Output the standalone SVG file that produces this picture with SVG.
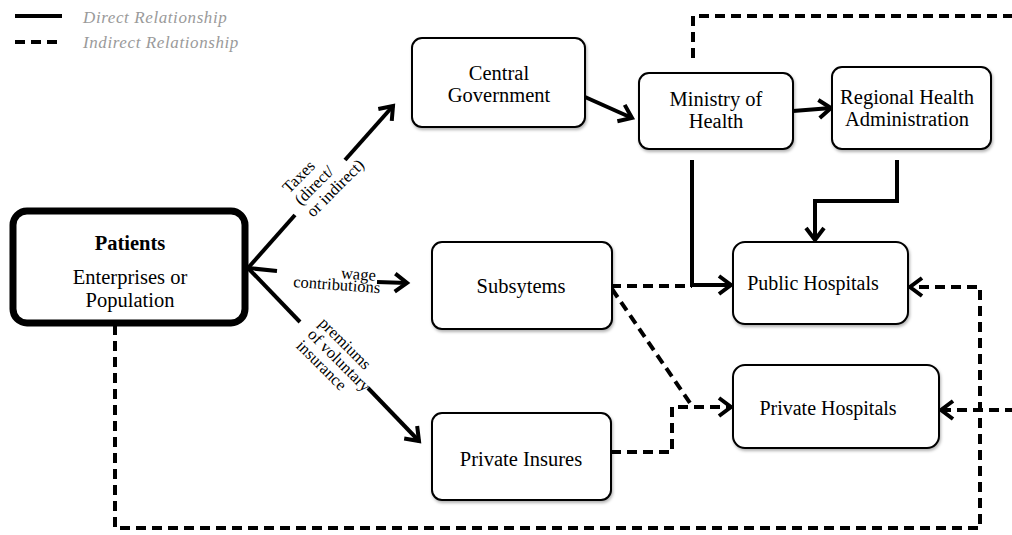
<svg xmlns="http://www.w3.org/2000/svg" width="1012" height="535" viewBox="0 0 1012 535">
<defs>
<marker id="ah" markerUnits="userSpaceOnUse" markerWidth="20" markerHeight="20" refX="14" refY="9" orient="auto" overflow="visible">
<path d="M2,0 L14,9 L2,18" fill="none" stroke="#000" stroke-width="4" stroke-linejoin="miter"/>
</marker>
<filter id="sh" x="-10%" y="-10%" width="125%" height="130%">
<feDropShadow dx="1" dy="2" stdDeviation="1.5" flood-color="#000" flood-opacity="0.3"/>
</filter>
</defs>
<style>
.box{fill:#fff;stroke:#000;stroke-width:2;filter:url(#sh)}
.t{font-family:"Liberation Serif","Times New Roman",serif;font-size:20.5px;fill:#000;text-anchor:middle}
.tt{font-family:"Liberation Serif","Times New Roman",serif;font-size:20px;fill:#000;text-anchor:middle}
.lbl{font-family:"Liberation Serif","Times New Roman",serif;font-size:16.5px;fill:#000}
.leg{font-family:"Liberation Serif","Times New Roman",serif;font-size:17px;font-style:italic;fill:#9a9a9a;letter-spacing:0.6px}
.s{fill:none;stroke:#000;stroke-width:4}
.d{fill:none;stroke:#000;stroke-width:4;stroke-dasharray:10 6}
</style>
<rect width="1012" height="535" fill="#fff"/>
<g id="legend">
<line x1="15" y1="16" x2="62" y2="16" class="s"/>
<line x1="15" y1="42" x2="62" y2="42" class="d"/>
<text x="83" y="23" class="leg">Direct Relationship</text>
<text x="83" y="48" class="leg">Indirect Relationship</text>
</g>
<g id="connectors">
<polyline class="s" points="248,268 295,215"/>
<polyline class="s" points="345,160 393,106" marker-end="url(#ah)"/>
<polyline class="s" points="248,268 277,271"/>
<polyline class="s" points="377,282 407,283" marker-end="url(#ah)"/>
<polyline class="s" points="248,268 300,322"/>
<polyline class="s" points="368,388 419,441" marker-end="url(#ah)"/>
<polyline class="s" points="585,97 632,118" marker-end="url(#ah)"/>
<polyline class="s" points="793,111 831,108" marker-end="url(#ah)"/>
<polyline class="s" points="692,160 692,285 731,285" marker-end="url(#ah)"/>
<polyline class="s" points="897,160 897,201 815,201 815,240" marker-end="url(#ah)"/>
<polyline class="d" points="611,286 692,286"/>
<polyline class="d" points="612,289 690,403"/>
<polyline class="d" points="611,452 672,452 672,407 690,407 731,407" marker-end="url(#ah)"/>
<polyline class="d" points="115,325 115,528 980,528 980,287 910,287" marker-end="url(#ah)"/>
<polyline class="d" points="693,58 693,16 1015,16"/>
<polyline class="d" points="1015,410 941,410" marker-end="url(#ah)"/>
<text class="lbl" transform="translate(289,194) rotate(-45)"><tspan x="0" y="0">Taxes</tspan><tspan x="0" y="17">(direct/</tspan><tspan x="0" y="34">or indirect)</tspan></text>
<text class="lbl" transform="translate(293,287) rotate(4)"><tspan x="47" y="-12">wage</tspan><tspan x="0" y="0">contributions</tspan></text>
<text class="lbl" transform="translate(318,324) rotate(45)"><tspan x="0" y="0">premiums</tspan><tspan x="0" y="16">of voluntary</tspan><tspan x="0" y="32">insurance</tspan></text>
</g>
<g id="patients">
<rect x="13" y="211" width="232" height="112" rx="14" fill="#fff" stroke="#000" stroke-width="7"/>
<text class="t" x="130" y="250" font-weight="bold" font-size="21px">Patients</text>
<text class="t" x="130" y="284">Enterprises or</text>
<text class="t" x="130" y="307">Population</text>
</g>
<g id="central-government">
<rect class="box" x="412" y="38" width="173" height="89" rx="10"/>
<text class="t" x="499" y="80">Central</text>
<text class="t" x="499" y="102">Government</text>
</g>
<g id="ministry-of-health">
<rect class="box" x="639" y="73" width="154" height="76" rx="10"/>
<text class="t" x="716" y="106">Ministry of</text>
<text class="t" x="716" y="128">Health</text>
</g>
<g id="regional-health-administration">
<rect class="box" x="832" y="67" width="159" height="82" rx="10"/>
<text class="t" x="907" y="104">Regional Health</text>
<text class="t" x="907" y="126">Administration</text>
</g>
<g id="subsytems">
<rect class="box" x="432" y="242" width="180" height="87" rx="10"/>
<text class="t" x="521" y="293">Subsytems</text>
</g>
<g id="public-hospitals">
<rect class="box" x="733" y="242" width="175" height="82" rx="12"/>
<text class="tt" x="813" y="290">Public Hospitals</text>
</g>
<g id="private-hospitals">
<rect class="box" x="733" y="365" width="206" height="83" rx="12"/>
<text class="tt" x="828" y="415">Private Hospitals</text>
</g>
<g id="private-insures">
<rect class="box" x="432" y="413" width="179" height="87" rx="10"/>
<text class="t" x="521" y="466">Private Insures</text>
</g>
</svg>
